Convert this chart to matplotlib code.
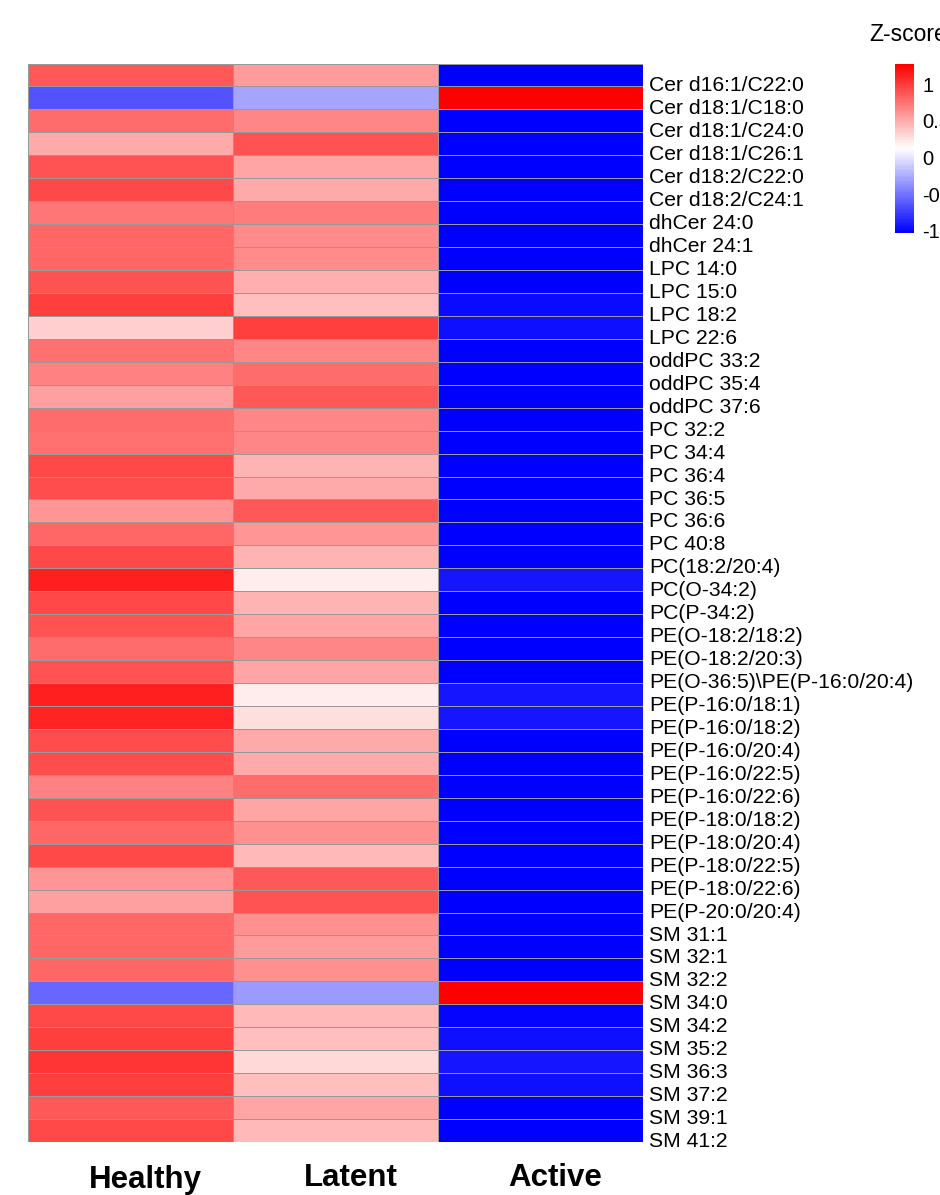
import numpy as np
import matplotlib
matplotlib.use("Agg")
import matplotlib.pyplot as plt
from matplotlib.colors import LinearSegmentedColormap, Normalize
from matplotlib.transforms import ScaledTranslation

plt.rcParams['font.family'] = ['Liberation Sans', 'DejaVu Sans']

# Datos: z-score por lipido (filas) y grupo (columnas)
grupos = ['Healthy', 'Latent', 'Active']

lipidos = ['Cer d16:1/C22:0', 'Cer d18:1/C18:0', 'Cer d18:1/C24:0', 'Cer d18:1/C26:1',
           'Cer d18:2/C22:0', 'Cer d18:2/C24:1', 'dhCer 24:0', 'dhCer 24:1',
           'LPC 14:0', 'LPC 15:0', 'LPC 18:2', 'LPC 22:6',
           'oddPC 33:2', 'oddPC 35:4', 'oddPC 37:6',
           'PC 32:2', 'PC 34:4', 'PC 36:4', 'PC 36:5', 'PC 36:6', 'PC 40:8',
           'PC(18:2/20:4)', 'PC(O-34:2)', 'PC(P-34:2)',
           'PE(O-18:2/18:2)', 'PE(O-18:2/20:3)', 'PE(O-36:5)\\PE(P-16:0/20:4)',
           'PE(P-16:0/18:1)', 'PE(P-16:0/18:2)', 'PE(P-16:0/20:4)', 'PE(P-16:0/22:5)',
           'PE(P-16:0/22:6)', 'PE(P-18:0/18:2)', 'PE(P-18:0/20:4)', 'PE(P-18:0/22:5)',
           'PE(P-18:0/22:6)', 'PE(P-20:0/20:4)',
           'SM 31:1', 'SM 32:1', 'SM 32:2', 'SM 34:0', 'SM 34:2', 'SM 35:2',
           'SM 36:3', 'SM 37:2', 'SM 39:1', 'SM 41:2']

healthy = [0.75, -0.77, 0.65, 0.37, 0.78, 0.83, 0.61, 0.69,
           0.69, 0.78, 0.87, 0.21,
           0.64, 0.56, 0.43,
           0.66, 0.64, 0.83, 0.79, 0.47, 0.68,
           0.82, 1.01, 0.82,
           0.78, 0.65, 0.78,
           1.01, 0.97, 0.79, 0.79,
           0.56, 0.78, 0.69, 0.83,
           0.47, 0.43,
           0.68, 0.69, 0.69, -0.69, 0.83, 0.87,
           0.92, 0.87, 0.75, 0.82]

latent = [0.45, -0.41, 0.54, 0.77, 0.41, 0.37, 0.60, 0.51,
          0.51, 0.36, 0.28, 0.87,
          0.54, 0.65, 0.74,
          0.54, 0.54, 0.34, 0.39, 0.74, 0.47,
          0.34, 0.07, 0.34,
          0.41, 0.54, 0.41,
          0.07, 0.14, 0.39, 0.39,
          0.65, 0.41, 0.50, 0.31,
          0.74, 0.78,
          0.50, 0.46, 0.50, -0.46, 0.32, 0.28,
          0.18, 0.28, 0.41, 0.32]

active = [-1.15, 1.15, -1.15, -1.15, -1.15, -1.15, -1.15, -1.15,
          -1.15, -1.15, -1.09, -1.08,
          -1.15, -1.15, -1.15,
          -1.15, -1.15, -1.15, -1.15, -1.15, -1.15,
          -1.15, -1.04, -1.15,
          -1.15, -1.15, -1.15,
          -1.05, -1.06, -1.15, -1.15,
          -1.15, -1.15, -1.15, -1.15,
          -1.15, -1.15,
          -1.15, -1.15, -1.15, 1.15, -1.12, -1.08,
          -1.06, -1.08, -1.15, -1.15]

matriz = np.column_stack([healthy, latent, active])
n_filas, n_cols = matriz.shape

# Escala de color azul-blanco-rojo (como pheatmap)
cmap = LinearSegmentedColormap.from_list('azul_rojo', ['blue', 'white', 'red'], N=100)
lim = 2 / np.sqrt(3)
norm = Normalize(vmin=-lim, vmax=lim)

fig = plt.figure(figsize=(9.4, 11.95), dpi=100)
W, H = 940, 1195
ax = fig.add_axes([28 / W, 1 - 1142 / H, 615 / W, 1078.5 / H])

ax.pcolormesh(np.arange(n_cols + 1), np.arange(n_filas + 1), matriz,
              cmap=cmap, norm=norm, edgecolors='#999999', linewidth=0.7)
ax.set_xlim(0, n_cols)
ax.set_ylim(n_filas, 0)
for s in ax.spines.values():
    s.set_visible(False)

# Etiquetas de filas a la derecha
ax.yaxis.tick_right()
ax.set_yticks(np.arange(n_filas) + 0.5)
ax.set_yticklabels(lipidos, fontsize=15.2)
ax.tick_params(axis='y', length=0, pad=4.3)
desplazar_y = ScaledTranslation(0, -9 / 100, fig.dpi_scale_trans)
for t in ax.get_yticklabels():
    t.set_transform(t.get_transform() + desplazar_y)

# Etiquetas de columnas abajo
ax.set_xticks(np.arange(n_cols) + 0.5)
ax.set_xticklabels(grupos, fontsize=22.5, fontweight='bold')
ax.tick_params(axis='x', length=0, pad=15)
desplazar_x = ScaledTranslation(15 / 100, 0, fig.dpi_scale_trans)
for t in ax.get_xticklabels():
    t.set_transform(t.get_transform() + desplazar_x)
# Healthy queda un poco mas abajo en el original
etiqueta_h = ax.get_xticklabels()[0]
etiqueta_h.set_transform(etiqueta_h.get_transform() + ScaledTranslation(0, -2 / 100, fig.dpi_scale_trans))

# Leyenda de color
cax = fig.add_axes([895 / W, 1 - 233 / H, 19 / W, 169 / H])
cb = fig.colorbar(plt.cm.ScalarMappable(norm=norm, cmap=cmap), cax=cax)
cb.outline.set_visible(False)
cb.set_ticks([-1, -0.5, 0, 0.5, 1])
cb.set_ticklabels(['-1', '-0.5', '0', '0.5', '1'])
cax.tick_params(length=0, pad=5.8, labelsize=14.5)
for t in cax.get_yticklabels():
    t.set_transform(t.get_transform() + desplazar_y)

fig.text(869 / W, 1 - 41 / H, 'Z-score', fontsize=16.5, ha='left', va='baseline')

plt.savefig('out.png', dpi=100)
